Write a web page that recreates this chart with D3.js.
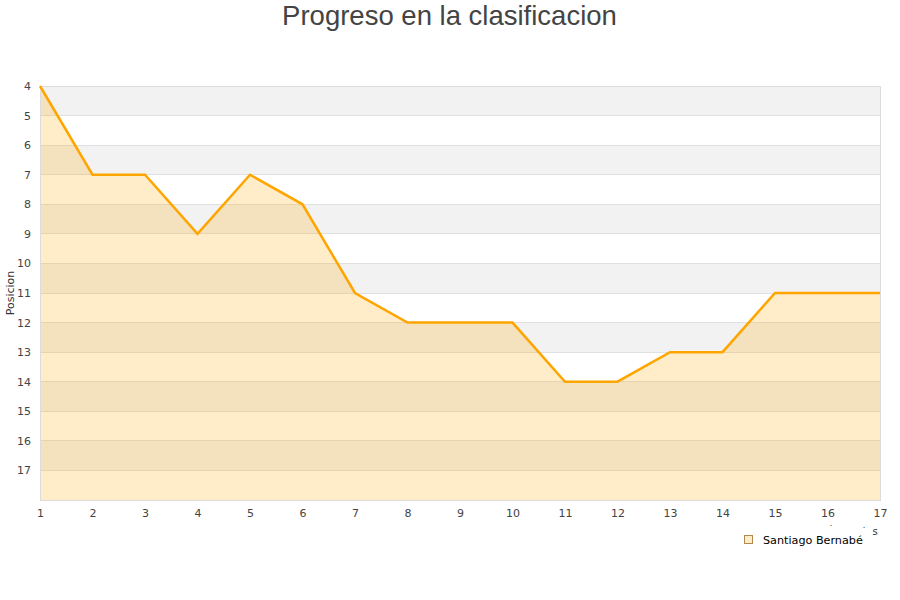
<!DOCTYPE html>
<html><head><meta charset="utf-8">
<script src="https://cdn.jsdelivr.net/npm/d3@7"></script>
<style>body{margin:0;background:#fff}svg{display:block;font-family:"DejaVu Sans",sans-serif}</style>
</head><body><svg id="c" width="900" height="600"></svg>
<script>
const jornadas = [1,2,3,4,5,6,7,8,9,10,11,12,13,14,15,16,17];
const posiciones = [4,7,7,9,7,8,11,12,12,12,14,14,13,13,11,11,11];
const yTicks = [4,5,6,7,8,9,10,11,12,13,14,15,16,17];
const seriesName = "Santiago Bernabé";
const title = "Progreso en la clasificacion";

const svg = d3.select("#c");
const L=40,R=880,T=86,B=500;
const x = d3.scaleLinear().domain([1,17]).range([L,R]);
const y = d3.scaleLinear().domain([4,18]).range([T,B]);

// bands
const bands = d3.range(4,18);
svg.selectAll("rect.band").data(bands).enter().append("rect")
  .attr("x",L).attr("width",R-L).attr("y",d=>y(d)).attr("height",d=>y(d+1)-y(d))
  .attr("fill",(d,i)=>i%2===0?"#f2f2f2":"#ffffff");
// grid
svg.selectAll("line.grid").data(d3.range(5,18)).enter().append("line")
  .attr("x1",L).attr("x2",R).attr("y1",d=>y(d)).attr("y2",d=>y(d))
  .attr("stroke","#e0e0e0").attr("stroke-width",1).attr("shape-rendering","crispEdges");
// area
const area = d3.area().x((d,i)=>x(jornadas[i])).y0(y(18)).y1(d=>y(d));
svg.append("path").datum(posiciones).attr("d",area).attr("fill","rgba(255,165,0,0.21)");
// frame
svg.append("rect").attr("x",L).attr("y",T).attr("width",R-L).attr("height",B-T)
  .attr("fill","none").attr("stroke","#dcdcdc").attr("shape-rendering","crispEdges");
// line
const line = d3.line().x((d,i)=>x(jornadas[i])).y(d=>y(d));
svg.append("path").datum(posiciones).attr("d",line).attr("fill","none")
  .attr("stroke","#ffa500").attr("stroke-width",2.5).attr("stroke-linejoin","miter");

// axes
const yAxis = svg.append("g").attr("transform",`translate(${L},0)`)
  .call(d3.axisLeft(y).tickValues(yTicks).tickSize(0).tickPadding(9));
yAxis.select(".domain").remove();
yAxis.selectAll("text").attr("font-size",11).attr("fill","#444").attr("font-family","DejaVu Sans");
const xAxis = svg.append("g").attr("transform",`translate(0,${B})`)
  .call(d3.axisBottom(x).tickValues(jornadas).tickSize(0).tickPadding(9).tickFormat(d3.format("d")));
xAxis.select(".domain").remove();
xAxis.selectAll("text").attr("font-size",11).attr("fill","#444").attr("font-family","DejaVu Sans");

// y label
svg.append("text").attr("transform","translate(14,293) rotate(-90)").attr("text-anchor","middle")
  .attr("font-size",11).attr("fill","#333").text("Posicion");
// x label fragments
svg.append("text").attr("x",875).attr("y",535).attr("text-anchor","middle").attr("font-size",10).attr("fill","#333").text("s");
svg.append("text").attr("x",831).attr("y",526).attr("text-anchor","middle").attr("font-size",8).attr("fill","#333").text(".");
svg.append("text").attr("x",864).attr("y",528).attr("text-anchor","middle").attr("font-size",8).attr("fill","#333").text(".");

// title
svg.append("text").attr("x",449.5).attr("y",25).attr("text-anchor","middle")
  .attr("font-family","Liberation Sans, Arial, sans-serif").attr("font-size",27.5).attr("fill","#444").text(title);

// legend
svg.append("rect").attr("x",744.5).attr("y",535.5).attr("width",8).attr("height",8)
  .attr("fill","rgba(255,165,0,0.21)").attr("stroke","#b08850").attr("stroke-width",1);
svg.append("text").attr("x",763).attr("y",543.5).attr("font-size",11.2).attr("fill","#000").text(seriesName);
</script></body></html>
